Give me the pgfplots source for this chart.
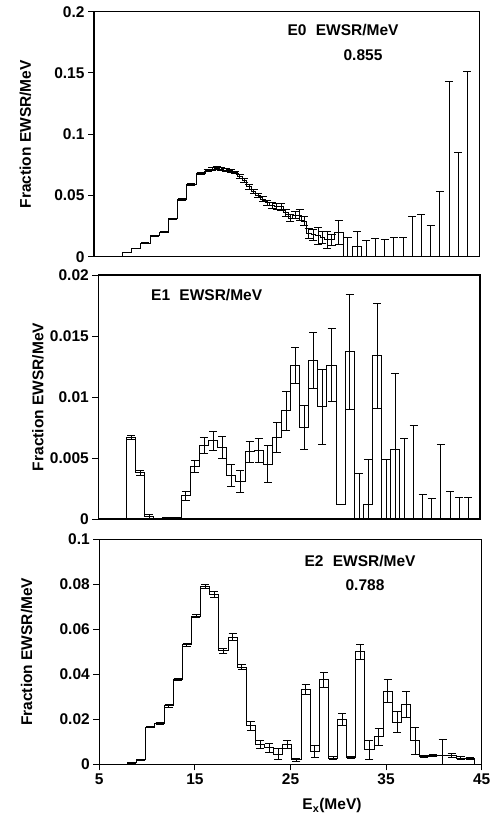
\documentclass[border=0pt]{standalone}
\usepackage{fontspec}
\setmainfont{Liberation Sans}
\usepackage{pgfplots}
\usepackage{pgfplotstable}
\pgfplotsset{compat=1.18}

\newcommand{\lbl}{\fontsize{15.5}{18}\selectfont\bfseries}

% columns: x = left bin edge, y = value, e = error, c = error bar position
\pgfplotstableread{
x y e c
7.95 0 0 7.95
7.95 0.0035 0.0003 8.43
8.91 0.0068 0.0003 9.39
9.86 0.0110 0.0004 10.34
10.82 0.0170 0.0004 11.30
11.77 0.0200 0.0004 12.25
12.73 0.0310 0.0006 13.20
13.68 0.0470 0.0008 14.16
14.64 0.0590 0.0008 15.12
15.59 0.0680 0.0008 16.07
16.55 0.0705 0.0010 16.79
17.03 0.0715 0.0010 17.27
17.50 0.0722 0.0012 17.74
17.98 0.0715 0.0012 18.22
18.46 0.0705 0.0012 18.70
18.94 0.0700 0.0012 19.18
19.41 0.0688 0.0012 19.65
19.89 0.0655 0.0015 20.13
20.37 0.0625 0.0015 20.61
20.85 0.0570 0.0018 21.09
21.32 0.0535 0.0018 21.56
21.80 0.0500 0.0020 22.04
22.28 0.0470 0.0020 22.52
22.76 0.0440 0.0022 23.00
23.23 0.0420 0.0022 23.47
23.71 0.0410 0.0025 23.95
24.19 0.0410 0.0028 24.43
24.67 0.0360 0.0028 24.91
25.14 0.0315 0.0030 25.38
25.62 0.0340 0.0030 25.86
26.10 0.0340 0.0045 26.34
26.58 0.0290 0.0035 26.82
27.05 0.0190 0.0040 27.29
27.53 0.0180 0.0045 27.77
28.01 0.0170 0.0070 28.25
28.48 0.0160 0.0050 28.72
28.96 0.0140 0.0070 29.20
29.44 0.0140 0.0045 29.68
29.92 0.0200 0.0100 30.40
30.87 0 0.0160 31.35
31.83 0.0080 0.0130 32.30
32.78 0 0.0130 33.26
33.74 0 0.0147 34.21
34.69 0 0.0145 35.17
35.65 0 0.0155 36.12
36.60 0 0.0155 37.08
37.56 0 0.0330 38.03
38.51 0 0.0345 38.99
39.47 0 0.0256 39.94
40.42 0 0.0530 40.90
41.38 0 0.1434 41.85
42.33 0 0.0852 42.81
43.29 0 0.1515 43.76
44.24 0 0 44.24
}\Ezero

\pgfplotstableread{
x y e c
7.95 0 0 7.95
7.95 0.0067 0.00015 8.43
8.91 0.0038 0.0002 9.39
9.86 0.0002 0.0002 10.34
10.82 0 0 11.30
11.77 0.0001 0 12.25
12.73 0.0001 0 13.20
13.68 0.0019 0.00035 14.16
14.64 0.0043 0.0005 15.12
15.59 0.0060 0.00065 16.07
16.55 0.0064 0.0008 17.03
17.50 0.0059 0.0009 17.98
18.46 0.0036 0.0009 18.94
19.41 0.0031 0.0009 19.89
20.37 0.0055 0.0009 20.85
21.32 0.0056 0.0010 21.80
22.28 0.0045 0.0015 22.76
23.23 0.0067 0.0012 23.71
24.19 0.0089 0.0016 24.67
25.14 0.0126 0.0015 25.62
26.10 0.0075 0.0018 26.58
27.05 0.0130 0.0023 27.53
28.01 0.0092 0.0031 28.49
28.96 0.0126 0.0030 29.44
29.92 0.0012 0 30.40
30.87 0.0137 0.0047 31.35
31.83 0 0.0037 32.31
32.78 0.0012 0.0037 33.26
33.74 0.0134 0.0043 34.22
34.69 0 0.0049 35.17
35.65 0.0057 0.0062 36.13
36.60 0 0.0066 37.08
37.56 0 0.0077 38.04
38.51 0 0.0020 38.99
39.47 0 0.0017 39.95
40.42 0 0.0061 40.90
41.38 0 0.0023 41.86
42.33 0 0.0018 42.81
43.29 0 0.0018 43.77
44.24 0 0 44.24
}\Eone

\pgfplotstableread{
x y e c
7.95 0 0 7.95
7.95 0.0008 0.0002 8.43
8.91 0.0020 0.0003 9.39
9.86 0.0166 0.0004 10.34
10.82 0.0182 0.0004 11.30
11.77 0.0260 0.0005 12.25
12.73 0.0378 0.0006 13.20
13.68 0.0532 0.0007 14.16
14.64 0.0658 0.0007 15.12
15.59 0.0790 0.0008 16.07
16.55 0.0756 0.0012 17.03
17.50 0.0504 0.0012 17.98
18.46 0.0565 0.0015 18.94
19.41 0.0432 0.0012 19.89
20.37 0.0172 0.0020 20.85
21.32 0.0087 0.0018 21.80
22.28 0.0074 0.0020 22.76
23.23 0.0046 0.0023 23.71
24.19 0.0089 0.0018 24.67
25.14 0.0020 0.0005 25.62
26.10 0.0332 0.0021 26.58
27.05 0.0057 0.0025 27.53
28.01 0.0375 0.0033 28.49
28.96 0.0028 0.0005 29.44
29.92 0.0200 0.0028 30.40
30.87 0.0030 0.0005 31.35
31.83 0.0500 0.0035 32.31
32.78 0.0066 0.0042 33.26
33.74 0.0123 0.0037 34.22
34.69 0.0326 0.0052 35.17
35.65 0.0188 0.0048 36.13
36.60 0.0266 0.0059 37.08
37.56 0.0105 0.0060 38.04
38.51 0.0035 0.0003 38.99
39.47 0.0038 0.0005 39.95
40.42 0.0038 0.0072 40.90
41.38 0.0040 0.0010 41.86
42.33 0.0028 0.0005 42.81
43.29 0.0025 0.0005 43.77
44.24 0 0 44.24
}\Etwo

\pgfplotsset{
  panel/.style={
    scale only axis, anchor=south west,
    xmin=5, xmax=45, ymin=0,
    axis line style={line width=1.2pt},
    tick style={line width=1pt, black},
    tick align=outside, major tick length=6pt,
    ytick pos=left, xtick pos=bottom, xtick=\empty,
    scaled y ticks=false,
    ticklabel style={font=\lbl},
    ylabel={Fraction EWSR/MeV},
    ylabel style={font=\lbl, anchor=center},
  },
  hist/.style={const plot, black, line width=0.9pt, mark=none},
  errs/.style={draw=none, mark=none,
    error bars/.cd, y dir=both, y explicit,
    error bar style={draw=black, line width=0.8pt},
    error mark options={draw=black, rotate=90, mark size=4pt, line width=0.8pt}},
}

\begin{document}
\begin{tikzpicture}
\useasboundingbox (0pt,0pt) rectangle (494pt,-821pt);

\begin{axis}[panel, at={(94pt,-256.7pt)}, width=385.3pt, height=245pt,
  ymax=0.2, ytick={0,0.05,0.1,0.15,0.2}, yticklabels={0,0.05,0.1,0.15,0.2},
  ylabel style={at={(axis description cs:-0.178,0.5)}}]
\addplot[hist] table[x=x, y=y] {\Ezero};
\addplot[errs] table[x=c, y=y, y error=e] {\Ezero};
\end{axis}

\begin{axis}[panel, at={(98.3pt,-519pt)}, width=381.7pt, height=244pt,
  ymax=0.02, ytick={0,0.005,0.01,0.015,0.02}, yticklabels={0,0.005,0.01,0.015,0.02},
  ylabel style={at={(axis description cs:-0.158,0.5)}}]
\addplot[hist] table[x=x, y=y] {\Eone};
\addplot[errs] table[x=c, y=y, y error=e] {\Eone};
\end{axis}

\begin{axis}[panel, at={(99.3pt,-764.3pt)}, width=382.4pt, height=225pt,
  ymax=0.1, ytick={0,0.02,0.04,0.06,0.08,0.1}, yticklabels={0,0.02,0.04,0.06,0.08,0.1},
  xtick={5,15,25,35,45}, xticklabels={5,15,25,35,45},
  ylabel style={at={(axis description cs:-0.190,0.5)}},
  xlabel={E\textsubscript{x}(MeV)},
  xlabel style={font=\lbl, at={(axis description cs:0.6085,-0.185)}, anchor=center}]
\addplot[hist] table[x=x, y=y] {\Etwo};
\addplot[errs] table[x=c, y=y, y error=e] {\Etwo};
\end{axis}

\node[font=\lbl] at (343pt,-30pt) {E0\hspace{0.6em}EWSR/MeV};
\node[font=\lbl] at (363pt,-55pt) {0.855};
\node[font=\lbl] at (206.7pt,-295pt) {E1\hspace{0.6em}EWSR/MeV};
\node[font=\lbl] at (360pt,-561pt) {E2\hspace{0.6em}EWSR/MeV};
\node[font=\lbl] at (365pt,-585pt) {0.788};
\end{tikzpicture}
\end{document}
